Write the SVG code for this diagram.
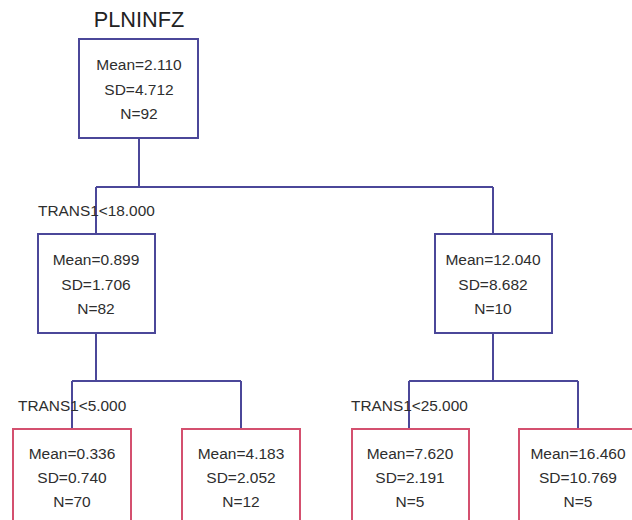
<svg xmlns="http://www.w3.org/2000/svg" width="632" height="520" viewBox="0 0 632 520">
  <style>
    .box { fill: #ffffff; stroke-width: 2; }
    .inner { stroke: #4b4799; }
    .leaf { stroke: #d4506f; }
    .wire { fill: none; stroke: #4b4799; stroke-width: 2; }
    .stat { font-family: "Liberation Sans", Arial, sans-serif; font-size: 15.5px; fill: #2e2e2e; text-anchor: middle; }
    .split { font-family: "Liberation Sans", Arial, sans-serif; font-size: 15.4px; fill: #2e2e2e; }
    .title { font-family: "Liberation Sans", Arial, sans-serif; font-size: 21.7px; fill: #222222; text-anchor: middle; }
  </style>
  <rect width="632" height="520" fill="#ffffff"/>

  <text class="title" x="139" y="27">PLNINFZ</text>

  <!-- connectors -->
  <g id="connectors">
    <path class="wire" d="M139 138 V187 M96 187 H493 M96 187 V234 M493 187 V234"/>
    <path class="wire" d="M96 333 V381 M72 381 H241 M72 381 V429 M241 381 V429"/>
    <path class="wire" d="M493 333 V381 M409 381 H578 M409 381 V429 M578 381 V429"/>
    <text class="split" x="38" y="216">TRANS1&lt;18.000</text>
    <text class="split" x="18" y="411">TRANS1&lt;5.000</text>
    <text class="split" x="351" y="411">TRANS1&lt;25.000</text>
  </g>

  <!-- root -->
  <g id="node-root">
    <rect class="box inner" x="79" y="39" width="119" height="99"/>
    <text class="stat" x="139" y="70">Mean=2.110</text>
    <text class="stat" x="139" y="95">SD=4.712</text>
    <text class="stat" x="139" y="119">N=92</text>
  </g>

  <g id="node-left">
    <rect class="box inner" x="38" y="234" width="117" height="99"/>
    <text class="stat" x="96" y="265">Mean=0.899</text>
    <text class="stat" x="96" y="290">SD=1.706</text>
    <text class="stat" x="96" y="314">N=82</text>
  </g>

  <g id="node-right">
    <rect class="box inner" x="435" y="234" width="117" height="99"/>
    <text class="stat" x="493" y="265">Mean=12.040</text>
    <text class="stat" x="493" y="290">SD=8.682</text>
    <text class="stat" x="493" y="314">N=10</text>
  </g>

  <g id="leaf-1">
    <rect class="box leaf" x="13" y="429" width="118" height="100"/>
    <text class="stat" x="72" y="459">Mean=0.336</text>
    <text class="stat" x="72" y="483">SD=0.740</text>
    <text class="stat" x="72" y="507">N=70</text>
  </g>

  <g id="leaf-2">
    <rect class="box leaf" x="182" y="429" width="118" height="100"/>
    <text class="stat" x="241" y="459">Mean=4.183</text>
    <text class="stat" x="241" y="483">SD=2.052</text>
    <text class="stat" x="241" y="507">N=12</text>
  </g>

  <g id="leaf-3">
    <rect class="box leaf" x="352" y="429" width="117" height="100"/>
    <text class="stat" x="410" y="459">Mean=7.620</text>
    <text class="stat" x="410" y="483">SD=2.191</text>
    <text class="stat" x="410" y="507">N=5</text>
  </g>

  <g id="leaf-4">
    <rect class="box leaf" x="519" y="429" width="130" height="100"/>
    <text class="stat" x="578" y="459">Mean=16.460</text>
    <text class="stat" x="578" y="483">SD=10.769</text>
    <text class="stat" x="578" y="507">N=5</text>
  </g>
</svg>
